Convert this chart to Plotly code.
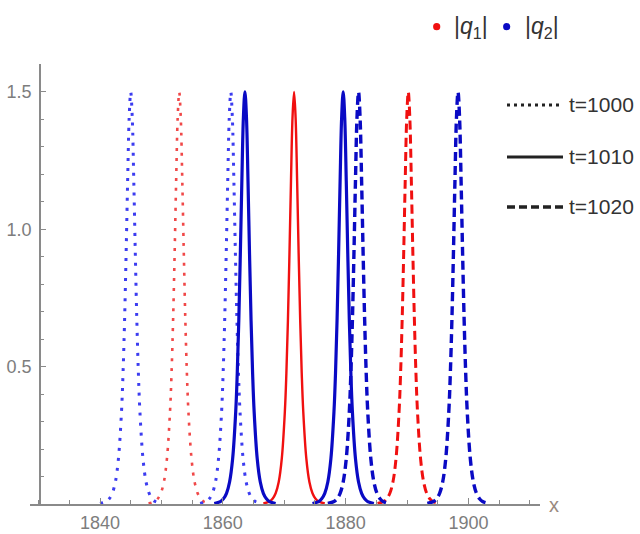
import plotly.graph_objects as go

# ---------------- data ----------------
times = [1000, 1010, 1020]
q1_centers = [1852.9, 1871.6, 1890.2]
q2_left_centers = [1845.0, 1863.6, 1882.1]
q2_right_centers = [1861.3, 1879.6, 1898.3]

# pulse profile (offset from centre, |q|)
profile_offsets = [-5.0, -4.0, -3.5, -3.0, -2.5, -2.0, -1.5, -1.25, -1.0, -0.75, -0.5, -0.25,
                   0.0, 0.25, 0.5, 0.75, 1.0, 1.25, 1.5, 2.0, 2.5, 3.0, 3.5, 4.0, 5.0]
profile_values = [0.002, 0.009, 0.019, 0.039, 0.080, 0.165, 0.336, 0.476, 0.667, 0.909, 1.176, 1.407,
                  1.500, 1.407, 1.176, 0.909, 0.667, 0.476, 0.336, 0.165, 0.080, 0.039, 0.019, 0.009, 0.002]

legend_series = ["|<i>q</i><sub>1</sub>|", "|<i>q</i><sub>2</sub>|"]
legend_times = ["t=1000", "t=1010", "t=1020"]

# ---------------- styles ----------------
BLUE = "#0a0ac4"
RED = "#f01010"
BLUE_DOT = "#3c3cf0"
RED_DOT = "#f04848"
dash_styles = ["3px,7px", "solid", "9px,5px"]
blue_colors = [BLUE_DOT, BLUE, BLUE]
red_colors = [RED_DOT, RED, RED]
blue_width = [3, 3.2, 3.4]
red_width = [2.6, 2.4, 3.0]

W, H = 640, 534
ML, MR, MT, MB = 30, 100, 64, 30
PW, PH = W - ML - MR, H - MT - MB


def px(xp):
    return (xp - ML) / PW


def py(yp):
    return (H - MB - yp) / PH


fig = go.Figure()


def add_pulse(center, color, width, dash):
    fig.add_trace(go.Scatter(
        x=[center + o for o in profile_offsets],
        y=profile_values,
        mode="lines",
        line=dict(color=color, width=width, dash=dash, shape="spline", smoothing=1.0),
        showlegend=False,
        hoverinfo="skip",
    ))


for i, t in enumerate(times):
    add_pulse(q1_centers[i], red_colors[i], red_width[i], dash_styles[i])
    add_pulse(q2_left_centers[i], blue_colors[i], blue_width[i], dash_styles[i])
    add_pulse(q2_right_centers[i], blue_colors[i], blue_width[i], dash_styles[i])

AXIS = "#8a8a8a"
TICKFONT = dict(family="Liberation Sans", size=18, color="#7d7d7d")

fig.update_layout(
    width=W, height=H,
    margin=dict(l=ML, r=MR, t=MT, b=MB, autoexpand=False),
    paper_bgcolor="white", plot_bgcolor="white",
    showlegend=False,
    xaxis=dict(
        range=[1828.6, 1911.65], showgrid=False, zeroline=False, automargin=False,
        showline=True, linecolor=AXIS, linewidth=1.8,
        tickmode="linear", tick0=1840, dtick=20,
        ticks="inside", ticklen=6, tickwidth=1.3, tickcolor=AXIS,
        minor=dict(tickmode="linear", tick0=1830, dtick=5, ticks="inside", ticklen=4,
                   tickwidth=1.3, tickcolor=AXIS, showgrid=False),
        tickfont=TICKFONT, ticklabelstandoff=1,
        fixedrange=True,
    ),
    yaxis=dict(
        range=[0, 1.6017], showgrid=False, zeroline=False, automargin=False,
        anchor="free", position=px(40),
        showline=True, linecolor=AXIS, linewidth=1.8,
        tickmode="array", tickvals=[0.5, 1.0, 1.5], ticktext=["0.5", "1.0", "1.5"],
        ticks="inside", ticklen=5, tickwidth=1.3, tickcolor=AXIS,
        minor=dict(tickmode="linear", tick0=0, dtick=0.1, ticks="inside", ticklen=3,
                   tickwidth=1.3, tickcolor=AXIS, showgrid=False),
        tickfont=TICKFONT, ticklabelstandoff=4,
        fixedrange=True,
    ),
)

# axis label "x"
fig.add_annotation(x=px(554), y=py(505), xref="paper", yref="paper", text="x",
                   showarrow=False, xanchor="center", yanchor="middle",
                   font=dict(family="Liberation Sans", size=20, color="#9a8a80"))

LEGFONT = dict(family="Liberation Sans", size=21, color="#333333")

# series legend (markers + labels)
for xp, col, label, xt in [(436.7, RED, legend_series[0], 452), (506.7, BLUE, legend_series[1], 523)]:
    fig.add_shape(type="circle", xref="paper", yref="paper", xsizemode="pixel", ysizemode="pixel",
                  xanchor=px(xp), yanchor=py(26.7), x0=-3.6, x1=3.6, y0=-3.6, y1=3.6,
                  fillcolor=col, line=dict(width=0))
    fig.add_annotation(x=px(xt), y=py(27), xref="paper", yref="paper", text=label,
                       showarrow=False, xanchor="left", yanchor="middle",
                       font=dict(family="Liberation Sans", size=23, color="#333333"))

# time legend (line samples + labels)
for i, (yp, lab) in enumerate(zip([105, 157, 207], legend_times)):
    fig.add_shape(type="line", xref="paper", yref="paper", x0=px(507), x1=px(563), y0=py(yp), y1=py(yp),
                  line=dict(color="#222222", width=[3, 3.2, 3.4][i], dash=["3px,4px", "solid", "8px,4px"][i]))
    fig.add_annotation(x=px(567), y=py(yp), xref="paper", yref="paper", text=lab,
                       showarrow=False, xanchor="left", yanchor="middle", font=LEGFONT)

fig.write_html("out.html")
